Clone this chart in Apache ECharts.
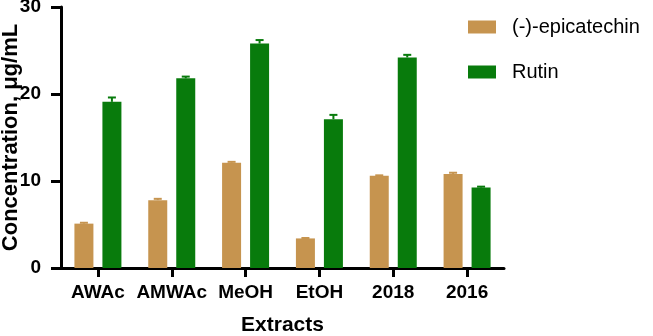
<!DOCTYPE html>
<html>
<head>
<meta charset="utf-8">
<script src="https://cdn.jsdelivr.net/npm/echarts@6/dist/echarts.min.js"></script>
<style>
  html, body { margin: 0; padding: 0; background: #fff; }
  #chart { width: 653px; height: 336px; }
</style>
</head>
<body>
<div id="chart"></div>
<script>
// data
const categories = ["AWAc", "AMWAc", "MeOH", "EtOH", "2018", "2016"];
const epicatechin = [5.1, 7.8, 12.1, 3.4, 10.6, 10.8];
const epicatechinErr = [0.1, 0.15, 0.1, 0.05, 0.05, 0.15];
const rutin = [19.1, 21.8, 25.8, 17.1, 24.2, 9.25];
const rutinErr = [0.5, 0.2, 0.4, 0.5, 0.3, 0.1];
const yTicks = [0, 10, 20, 30];

const fontFamily = "Arial, 'Liberation Sans', sans-serif";
const tanColor = "#C6944F";
const greenColor = "#087B0C";
const barWidth = 19;
const barGapPx = 9;

// error bar drawn on top of a bar, shifted by side (-1 left, +1 right)
function errorBarSeries(name, values, errs, color, side) {
  return {
    type: "custom",
    name: name,
    z: 5,
    silent: true,
    data: values.map((v, i) => [i, v, v + errs[i]]),
    renderItem: (params, api) => {
      const shift = side * (barWidth + barGapPx) / 2;
      const base = api.coord([api.value(0), api.value(1)]);
      const top = api.coord([api.value(0), api.value(2)]);
      const x = base[0] + shift;
      const capHalf = 4;
      const style = { stroke: color, lineWidth: 2 };
      return {
        type: "group",
        children: [
          { type: "line", shape: { x1: x, y1: base[1], x2: x, y2: top[1] }, style: style },
          { type: "line", shape: { x1: x - capHalf, y1: top[1], x2: x + capHalf, y2: top[1] }, style: style },
        ],
      };
    },
  };
}

const chart = echarts.init(document.getElementById("chart"));
const option = {
  backgroundColor: "#ffffff",
  animation: false,
  textStyle: { fontFamily: fontFamily },
  legend: {
    left: 463,
    top: 12,
    orient: "vertical",
    itemWidth: 28,
    itemHeight: 13,
    itemGap: 25,
    icon: "rect",
    data: ["(-)-epicatechin", "Rutin"],
    textStyle: {
      fontFamily: fontFamily,
      fontSize: 20,
      color: "#000",
      padding: [0, 0, 0, 11],
    },
  },
  grid: { left: 61, top: 7, width: 443, height: 261, containLabel: false, outerBoundsMode: "none" },
  xAxis: {
    type: "category",
    data: categories,
    name: "Extracts",
    nameLocation: "middle",
    nameGap: 47,
    nameMoveOverlap: false,
    nameTextStyle: { fontFamily: fontFamily, fontSize: 21, fontWeight: "bold", color: "#000" },
    axisLine: { lineStyle: { color: "#000", width: 3 } },
    axisTick: { show: true, alignWithLabel: true, interval: 0, length: 9, lineStyle: { color: "#000", width: 3 } },
    axisLabel: { interval: 0, margin: 15, fontFamily: fontFamily, fontSize: 19, fontWeight: "bold", color: "#000" },
  },
  yAxis: {
    type: "value",
    min: yTicks[0],
    max: yTicks[yTicks.length - 1],
    interval: 10,
    name: "Concentration, μg/mL",
    nameLocation: "middle",
    nameGap: 39,
    nameMoveOverlap: false,
    nameTextStyle: { fontFamily: fontFamily, fontSize: 22, fontWeight: "bold", color: "#000" },
    axisLine: { show: true, lineStyle: { color: "#000", width: 3 } },
    axisTick: { show: true, inside: false, length: 10, lineStyle: { color: "#000", width: 3 } },
    axisLabel: { margin: 20, fontFamily: fontFamily, fontSize: 19, fontWeight: "bold", color: "#000" },
    splitLine: { show: false },
  },
  series: [
    {
      name: "(-)-epicatechin",
      type: "bar",
      data: epicatechin,
      barWidth: barWidth,
      barGap: (barGapPx / barWidth * 100) + "%",
      itemStyle: { color: tanColor },
    },
    {
      name: "Rutin",
      type: "bar",
      data: rutin,
      barWidth: barWidth,
      barGap: (barGapPx / barWidth * 100) + "%",
      itemStyle: { color: greenColor },
    },
    errorBarSeries("epiErr", epicatechin, epicatechinErr, tanColor, -1),
    errorBarSeries("rutinErr", rutin, rutinErr, greenColor, 1),
  ],
};
chart.setOption(option);
</script>
</body>
</html>
